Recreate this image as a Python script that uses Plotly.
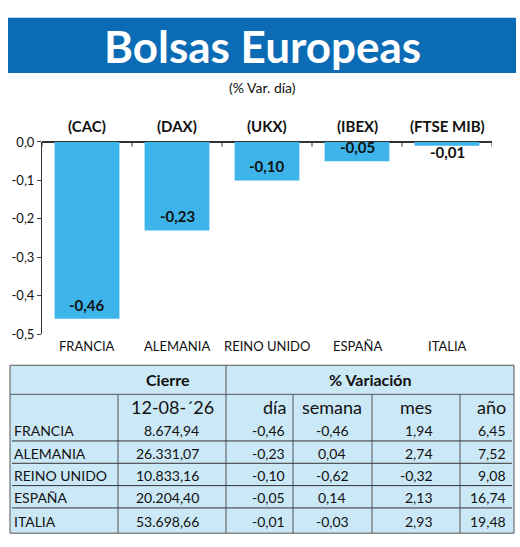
import plotly.graph_objects as go

countries = ["FRANCIA", "ALEMANIA", "REINO UNIDO", "ESPAÑA", "ITALIA"]
indices = ["(CAC)", "(DAX)", "(UKX)", "(IBEX)", "(FTSE MIB)"]
dia = [-0.46, -0.23, -0.10, -0.05, -0.01]
cierre = ["8.674,94", "26.331,07", "10.833,16", "20.204,40", "53.698,66"]
dia_txt = ["-0,46", "-0,23", "-0,10", "-0,05", "-0,01"]
semana = ["-0,46", "0,04", "-0,62", "0,14", "-0,03"]
mes = ["1,94", "2,74", "-0,32", "2,13", "2,93"]
anio = ["6,45", "7,52", "9,08", "16,74", "19,48"]
yticks = [0.0, -0.1, -0.2, -0.3, -0.4, -0.5]

W, H = 520, 547
def px(x): return x / W
def py(y): return 1 - y / H

FONT = "Lato"
fig = go.Figure()
fig.add_trace(go.Bar(x=list(range(5)), y=dia, marker_color="#3db5ea", width=0.72,
                     marker_line_width=0, hoverinfo="skip"))

shapes, ann = [], []
shapes.append(dict(type="rect", xref="paper", yref="paper", x0=px(8), x1=px(516), y0=py(67), y1=py(10),
                   fillcolor="#0b6cb5", line_width=0, layer="below"))
ann.append(dict(text="<b>Bolsas Europeas</b>", x=px(262), y=py(39), xref="paper", yref="paper",
                xanchor="center", yanchor="middle",
                showarrow=False, font=dict(family=FONT, size=44, color="white")))
ann.append(dict(text="(% Var. día)", x=px(262), y=py(82), xref="paper", yref="paper",
                xanchor="center", yanchor="middle",
                showarrow=False, font=dict(family=FONT, size=14, color="#111")))
for i, (v, t, idx, c) in enumerate(zip(dia, dia_txt, indices, countries)):
    ann.append(dict(text="<b>" + t + "</b>", x=i, y=v, xref="x", yref="y", yanchor="middle", xanchor="center",
                    yshift=14 if v < -0.02 else -6, showarrow=False,
                    font=dict(family=FONT, size=15, color="#111")))
    ann.append(dict(text="<b>" + idx + "</b>", x=i, y=py(122), xref="x", yref="paper",
                    xanchor="center", yanchor="middle",
                    showarrow=False, font=dict(family=FONT, size=15, color="#111")))
    ann.append(dict(text=c, x=i, y=py(348), xref="x", yref="paper", xanchor="center", yanchor="middle",
                    showarrow=False, font=dict(family=FONT, size=13, color="#111")))
for b in [-0.5, 0.5, 1.5, 2.5, 3.5, 4.5]:
    shapes.append(dict(type="line", xref="x", yref="y", x0=b, x1=b, y0=0, y1=-0.012,
                       line=dict(color="#333", width=1)))

rows = [368, 398, 423, 446, 469, 492, 515, 540]
shapes.append(dict(type="rect", xref="paper", yref="paper", x0=px(10), x1=px(514), y0=py(541), y1=py(368),
                   fillcolor="#cbe8f7", line=dict(color="#555", width=1), layer="below"))
shapes.append(dict(type="line", xref="paper", yref="paper", x0=px(10), x1=px(514), y0=py(398), y1=py(398),
                   line=dict(color="#555", width=1)))
shapes.append(dict(type="line", xref="paper", yref="paper", x0=px(226), x1=px(226), y0=py(541), y1=py(368),
                   line=dict(color="#555", width=1)))
for cx in [118, 293, 372, 460]:
    shapes.append(dict(type="line", xref="paper", yref="paper", x0=px(cx), x1=px(cx), y0=py(541), y1=py(398),
                       line=dict(color="#555", width=1)))
for ry in rows[3:7]:
    shapes.append(dict(type="line", xref="paper", yref="paper", x0=px(12), x1=px(512), y0=py(ry), y1=py(ry),
                       line=dict(color="#333", width=1)))
def tt(text, x, y, anchor="center", size=15, bold=False):
    ann.append(dict(text=("<b>%s</b>" % text) if bold else text, x=px(x), y=py(y), xref="paper", yref="paper",
                    xanchor=anchor, yanchor="middle", showarrow=False,
                    font=dict(family=FONT, size=size, color="#111")))
tt("Cierre", 168, 383, bold=True, size=16)
tt("% Variación", 370, 383, bold=True, size=16)
tt("12-08-´26", 172, 411, size=18)
tt("día", 288, 411, anchor="right", size=18)
tt("semana", 332, 411, size=18)
tt("mes", 416, 411, size=18)
tt("año", 508, 411, anchor="right", size=18)
for r in range(5):
    y = (rows[r + 2] + rows[r + 3]) / 2 + 1
    tt(countries[r], 12, y, anchor="left", size=14)
    tt(cierre[r], 201, y, anchor="right", size=14)
    tt(dia_txt[r], 287, y, anchor="right", size=14)
    tt(semana[r], 332, y, size=14)
    tt(mes[r], 435, y, anchor="right", size=14)
    tt(anio[r], 508, y, anchor="right", size=14)

fig.update_layout(
    width=W, height=H, margin=dict(l=0, r=0, t=0, b=0), paper_bgcolor="white", plot_bgcolor="rgba(0,0,0,0)",
    showlegend=False, shapes=shapes, annotations=ann,
    xaxis=dict(domain=[px(42), px(492)], range=[-0.5, 4.5], showticklabels=False, showgrid=False,
               zeroline=False),
    yaxis=dict(domain=[py(336), py(138)], range=[-0.5, 0], tickvals=yticks,
               ticktext=[("%.1f" % v).replace(".", ",") for v in yticks], ticks="outside", ticklen=4,
               showline=True, linecolor="#333", showgrid=False, zeroline=True, zerolinecolor="#333",
               tickfont=dict(family=FONT, size=13, color="#111")),
)
fig.write_html("out.html", config={"displayModeBar": False},
               post_script="document.body.style.margin='0';")
